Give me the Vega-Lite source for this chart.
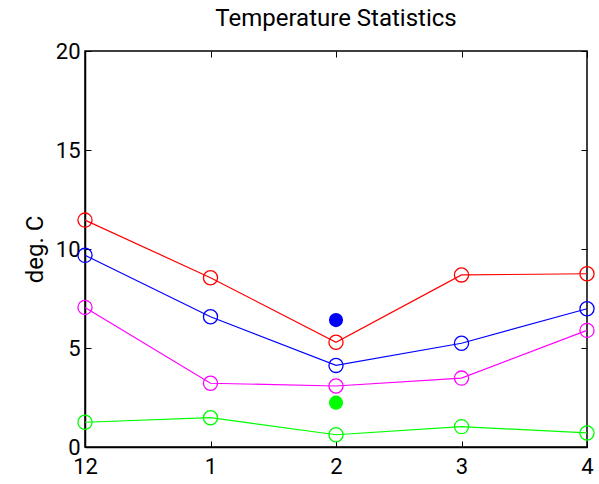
{
  "$schema": "https://vega.github.io/schema/vega-lite/v6.json",
  "width": 502,
  "height": 396,
  "autosize": {"type": "none"},
  "padding": {"left": 85, "top": 51, "right": 12, "bottom": 37},
  "background": "white",
  "title": {"text": "Temperature Statistics", "font": "Roboto", "fontSize": 24, "fontWeight": "normal", "color": "black", "offset": 9},
  "config": {
    "view": {"stroke": "black", "strokeWidth": 1.5},
    "axis": {"labelFont": "Roboto", "labelFontSize": 22, "labelColor": "black", "titleFont": "Roboto", "titleFontSize": 24, "titleFontWeight": "normal", "titleColor": "black", "grid": false, "domainColor": "black", "domainWidth": 1.5, "tickColor": "black", "tickWidth": 1}
  },
  "datasets": {
    "lines": [
      {"idx": 0, "month": "12", "series": "max", "temp": 11.46},
      {"idx": 1, "month": "1", "series": "max", "temp": 8.55},
      {"idx": 2, "month": "2", "series": "max", "temp": 5.29},
      {"idx": 3, "month": "3", "series": "max", "temp": 8.69},
      {"idx": 4, "month": "4", "series": "max", "temp": 8.75},
      {"idx": 0, "month": "12", "series": "mean", "temp": 9.68},
      {"idx": 1, "month": "1", "series": "mean", "temp": 6.58},
      {"idx": 2, "month": "2", "series": "mean", "temp": 4.12},
      {"idx": 3, "month": "3", "series": "mean", "temp": 5.24},
      {"idx": 4, "month": "4", "series": "mean", "temp": 6.98},
      {"idx": 0, "month": "12", "series": "median", "temp": 7.05},
      {"idx": 1, "month": "1", "series": "median", "temp": 3.22},
      {"idx": 2, "month": "2", "series": "median", "temp": 3.08},
      {"idx": 3, "month": "3", "series": "median", "temp": 3.48},
      {"idx": 4, "month": "4", "series": "median", "temp": 5.89},
      {"idx": 0, "month": "12", "series": "min", "temp": 1.25},
      {"idx": 1, "month": "1", "series": "min", "temp": 1.48},
      {"idx": 2, "month": "2", "series": "min", "temp": 0.62},
      {"idx": 3, "month": "3", "series": "min", "temp": 1.03},
      {"idx": 4, "month": "4", "series": "min", "temp": 0.71}
    ],
    "current": [
      {"idx": 2, "month": "2", "series": "mean", "temp": 6.41},
      {"idx": 2, "month": "2", "series": "min", "temp": 2.24}
    ]
  },
  "resolve": {"axis": {"x": "independent", "y": "independent"}},
  "layer": [
    {
      "data": {"name": "lines"},
      "mark": {"type": "line", "strokeWidth": 1.2},
      "encoding": {
        "x": {"field": "idx", "type": "quantitative", "scale": {"domain": [0, 4], "nice": false, "zero": false},
              "axis": {"orient": "bottom", "title": null, "values": [0, 1, 2, 3, 4], "labelExpr": "datum.value == 0 ? '12' : datum.label", "tickSize": -6, "labelPadding": 15, "labelFlush": false}},
        "y": {"field": "temp", "type": "quantitative", "scale": {"domain": [0, 20], "nice": false},
              "axis": {"orient": "left", "title": "deg. C", "values": [0, 5, 10, 15, 20], "tickSize": -6, "labelPadding": 11, "titlePadding": 8}},
        "color": {"field": "series", "type": "nominal", "legend": null,
                  "scale": {"domain": ["max", "mean", "median", "min"], "range": ["#ff0000", "#0000ff", "#ff00ff", "#00ff00"]}},
        "detail": {"field": "series"}
      }
    },
    {
      "data": {"name": "lines"},
      "mark": {"type": "point", "shape": "circle", "filled": false, "size": 200, "strokeWidth": 1.3, "opacity": 1},
      "encoding": {
        "x": {"field": "idx", "type": "quantitative",
              "axis": {"orient": "top", "title": null, "values": [0, 1, 2, 3, 4], "labels": false, "tickSize": -6, "domain": false}},
        "y": {"field": "temp", "type": "quantitative",
              "axis": {"orient": "right", "title": null, "values": [0, 5, 10, 15, 20], "labels": false, "tickSize": -6, "domain": false}},
        "color": {"field": "series", "type": "nominal", "legend": null}
      }
    },
    {
      "data": {"name": "current"},
      "mark": {"type": "circle", "size": 200, "opacity": 1},
      "encoding": {
        "x": {"field": "idx", "type": "quantitative", "axis": null},
        "y": {"field": "temp", "type": "quantitative", "axis": null},
        "color": {"field": "series", "type": "nominal", "legend": null}
      }
    }
  ]
}
